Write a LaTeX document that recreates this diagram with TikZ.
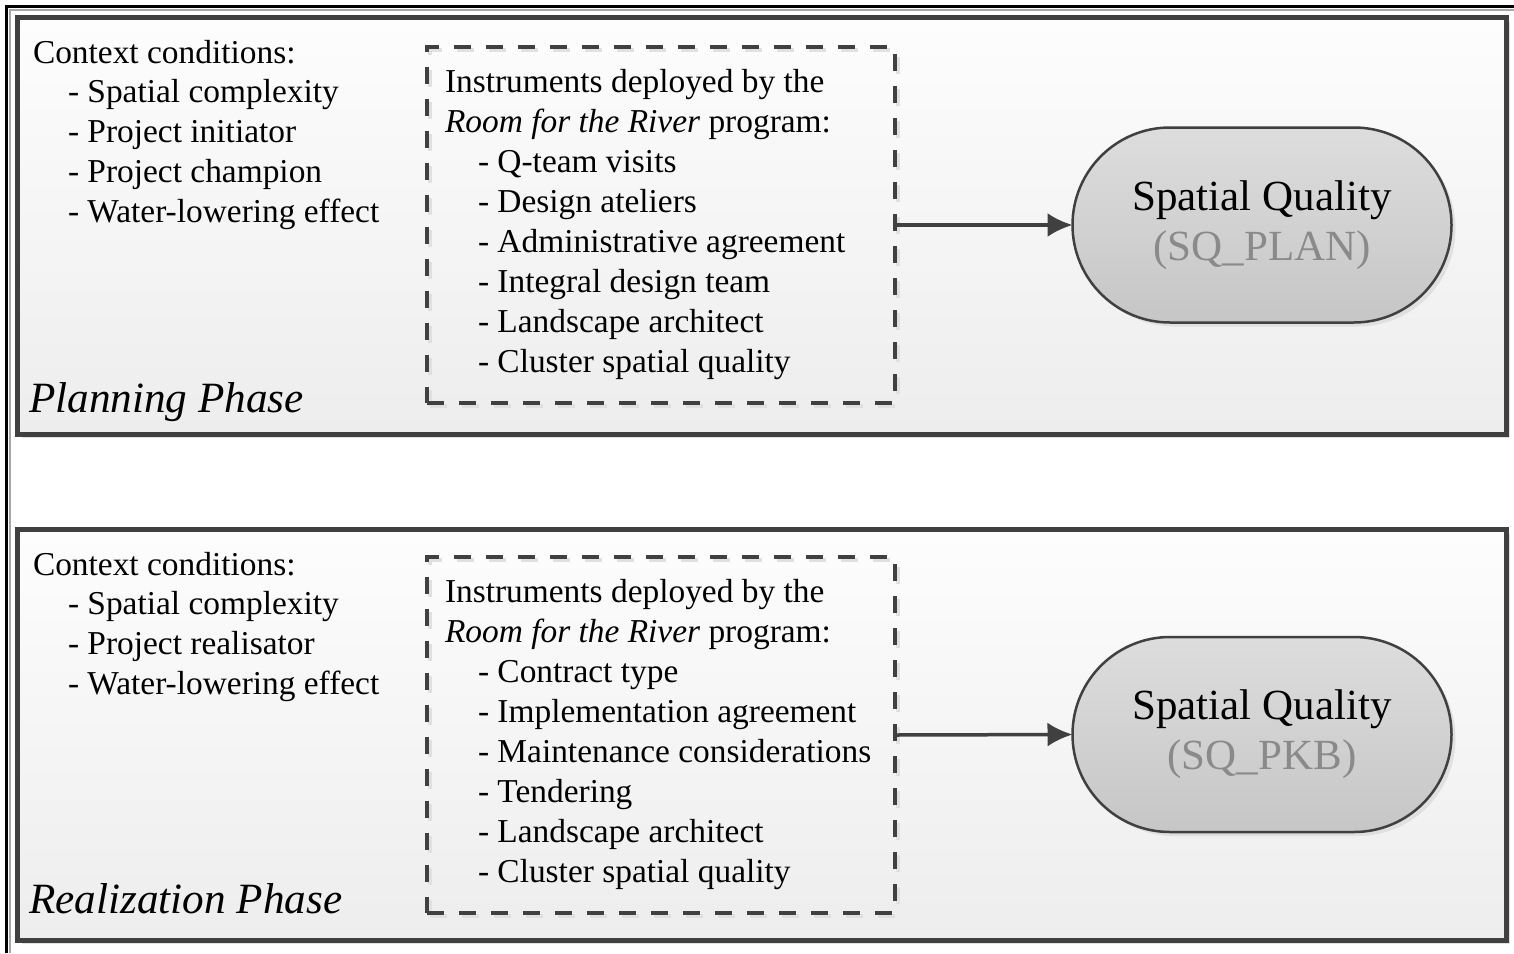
\documentclass[tikz,border=0pt]{standalone}
\usepackage{fontspec}
\setmainfont{Liberation Serif}
\usetikzlibrary{arrows.meta,shapes.misc,shadows}
\definecolor{framegray}{HTML}{404040}
\definecolor{paneltop}{HTML}{FDFDFD}
\definecolor{panelbot}{HTML}{EDEDED}
\definecolor{pilltop}{HTML}{DDDDDD}
\definecolor{pillbot}{HTML}{C6C6C6}
\definecolor{codegray}{HTML}{8A8A8A}
\definecolor{shadowgray}{HTML}{E0E0E0}

\begin{document}
\begin{tikzpicture}[x=1pt,y=-1pt,>={Latex[length=25pt,width=24pt]}]
	\tikzset{
		panel/.style={rectangle, draw=framegray, line width=5pt, top color=paneltop, bottom color=panelbot,
				inner sep=0, outer sep=0, minimum width=1488.5pt,
				drop shadow={shadow xshift=4pt, shadow yshift=-4pt, fill=shadowgray, opacity=1}},
		dashbox/.style={rectangle, draw=framegray, line width=4.5pt, dash pattern=on 17pt off 15pt,
				inner sep=0, outer sep=0, minimum width=468pt, minimum height=356pt},
		sqbox/.style={rounded rectangle, draw=framegray, line width=2.5pt, top color=pilltop, bottom color=pillbot,
				minimum width=379pt, minimum height=195pt, inner sep=0, outer sep=0, align=center,
				font=\fontsize{43}{52}\selectfont,
				drop shadow={shadow xshift=4pt, shadow yshift=-4pt, fill=shadowgray, opacity=1}},
		txt/.style={anchor=base west, inner sep=0, outer sep=0, font=\fontsize{33.4}{40}\selectfont},
		phase/.style={anchor=base west, inner sep=0, outer sep=0, font=\fontsize{43.2}{50}\selectfont\itshape},
		link/.style={->, draw=framegray, line width=3.5pt},
	}
	\useasboundingbox (0,0) rectangle (1514,953);

	% outer frame, cut off at right and bottom
	\draw[black!35, line width=1.5pt] (10,953) -- (10,10) -- (1514,10);
	\draw[black, line width=3pt] (6.5,953) -- (6.5,6.5) -- (1514,6.5);

	% planning phase
	\node[panel, minimum height=416.5pt] (planning) at (761.75,225.75) {};
	\node[txt] (ctxplan) at (33,63) {Context conditions:};
	\foreach \entry [count=\i] in {Spatial complexity, Project initiator, Project champion, Water-lowering effect}
		\node[txt] (ctxplan\i) at (68,{62+40*\i}) {- \entry};
	\node[phase] (planlabel) at (29,412) {Planning Phase};
	\node[dashbox, draw=shadowgray] (instr1sh) at (664,228) {};
	\node[dashbox] (instr1) at (661,225) {};
	\node[txt] (instr1a) at (445,92) {Instruments deployed by the};
	\node[txt] (instr1b) at (445,132) {\textit{Room for the River} program:};
	\foreach \entry [count=\i] in {Q-team visits, Design ateliers, Administrative agreement, Integral design team, Landscape architect, Cluster spatial quality}
		\node[txt] (instrplan\i) at (478,{132+40*\i}) {- \entry};
	\node[sqbox] (sq1) at (1262,225) {\raisebox{-2pt}{Spatial Quality}\\\textcolor{codegray}{(SQ\_PLAN)}};
	\draw[link] (instr1.east) -- (sq1.west);

	% realization phase
	\node[panel, minimum height=410.5pt] (realization) at (761.75,734.75) {};
	\node[txt] (ctxreal) at (33,575) {Context conditions:};
	\foreach \entry [count=\i] in {Spatial complexity, Project realisator, Water-lowering effect}
		\node[txt] (ctxreal\i) at (68,{574+40*\i}) {- \entry};
	\node[phase] (reallabel) at (29,913) {Realization Phase};
	\node[dashbox, draw=shadowgray] (instr2sh) at (664,738) {};
	\node[dashbox] (instr2) at (661,735) {};
	\node[txt] (instr2a) at (445,602) {Instruments deployed by the};
	\node[txt] (instr2b) at (445,642) {\textit{Room for the River} program:};
	\foreach \entry [count=\i] in {Contract type, Implementation agreement, Maintenance considerations, Tendering, Landscape architect, Cluster spatial quality}
		\node[txt] (instrreal\i) at (478,{642+40*\i}) {- \entry};
	\node[sqbox] (sq2) at (1262,734.5) {\raisebox{-2pt}{Spatial Quality}\\\textcolor{codegray}{(SQ\_PKB)}};
	\draw[link] (instr2.east) -- (sq2.west);
\end{tikzpicture}
\end{document}
